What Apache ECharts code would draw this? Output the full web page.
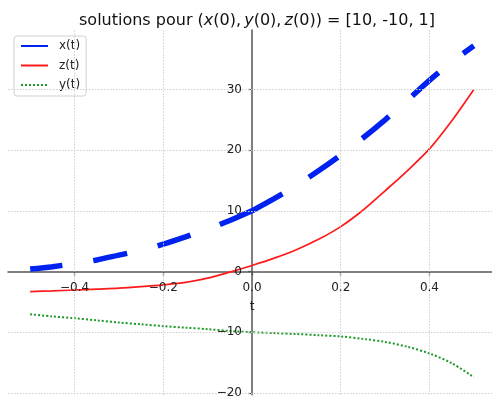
<!DOCTYPE html>
<html>
<head>
<meta charset="utf-8">
<script src="https://cdn.jsdelivr.net/npm/echarts@6/dist/echarts.min.js"></script>
<style>html,body{margin:0;padding:0;background:#fff}#c{width:492px;height:401px}</style>
</head>
<body>
<div id="c"></div>
<script>
const tVals = [-0.5,-0.45,-0.4,-0.35,-0.3,-0.25,-0.2,-0.15,-0.1,-0.05,0,0.05,0.1,0.15,0.2,0.25,0.3,0.35,0.4,0.45,0.5];
const xVals = [0.4,0.8,1.3,1.9,2.7,3.5,4.5,5.7,7.0,8.4,10.0,12.0,14.2,16.6,19.2,22.0,25.0,28.2,31.5,34.5,37.2];
const zVals = [-3.3,-3.2,-3.05,-2.9,-2.75,-2.5,-2.2,-1.8,-1.1,-0.1,1.0,2.2,3.6,5.3,7.4,10.1,13.3,16.6,20.2,24.8,30.0];
const yVals = [-7.05,-7.4,-7.7,-8.05,-8.4,-8.7,-9.0,-9.25,-9.5,-9.8,-10.0,-10.15,-10.3,-10.5,-10.7,-11.1,-11.6,-12.4,-13.5,-15.1,-17.4];
const xTicks = [-0.4,-0.2,0,0.2,0.4];
const yTicks = [-20,-10,0,10,20,30];
const xAxisName = 't';

const pairs = vals => tVals.map((t,i)=>[t, vals[i]]);
const xPairs = pairs(xVals);
const iZero = tVals.indexOf(0);
const xBack = xPairs.slice(0, iZero+1).reverse();
const xFwd = xPairs.slice(iZero);

const fmtX = v => (v < -1e-9 ? '\u2212' : '') + Math.abs(v).toFixed(1);
const fmtY = v => (v < 0 ? '\u2212' : '') + Math.abs(Math.round(v));

const FONT = 'DejaVu Sans';
const BLUE = '#0022f0';
const xStyle = {color:BLUE, width:5.5, type:[35,31], cap:'butt'};

const gridMarks = xTicks.filter(v=>v!==0).map(v=>({xAxis:v}))
  .concat(yTicks.filter(v=>v!==0).map(v=>({yAxis:v})));

const chart = echarts.init(document.getElementById('c'), null, {renderer:'canvas'});
chart.setOption({
  animation:false,
  title:{
    text:'{n|solutions pour (}{i|x}{n|(0),\u2009}{i|y}{n|(0),\u2009}{i|z}{n|(0)) = [10, -10, 1]}',
    left:252, top:8, textAlign:'center',
    textStyle:{fontWeight:'normal', rich:{
      n:{fontFamily:FONT, fontSize:16, fontWeight:'normal', color:'#111'},
      i:{fontFamily:FONT, fontSize:16, fontWeight:'normal', fontStyle:'italic', color:'#111'}
    }}
  },
  legend:{
    data:['x(t)','z(t)','y(t)'],
    orient:'vertical', left:14, top:36,
    itemWidth:27, itemHeight:14, itemGap:7.5,
    padding:[4,6,5,6],
    backgroundColor:'rgba(255,255,255,0.8)',
    borderColor:'#d0d0d0', borderWidth:1, borderRadius:3,
    itemStyle:{opacity:0},
    textStyle:{fontFamily:FONT, fontSize:12, color:'#222', padding:[0,0,0,6]}
  },
  grid:{left:8, right:0, top:30, bottom:6.3, outerBoundsMode:'none'},
  xAxis:{
    type:'value', min:-0.55, max:0.541,
    axisLine:{onZero:true, lineStyle:{color:'#555', width:1.5}},
    axisTick:{show:true, length:4, customValues:xTicks, lineStyle:{color:'#555', width:1.2}},
    axisLabel:{show:false},
    splitLine:{show:false}
  },
  yAxis:{
    type:'value', min:-20.3, max:39.8,
    axisLine:{onZero:true, show:true, lineStyle:{color:'#555', width:1.5}},
    axisTick:{show:true, length:4, customValues:yTicks, lineStyle:{color:'#555', width:1.2}},
    axisLabel:{show:false},
    splitLine:{show:false}
  },
  series:[
    {type:'line', data:[], silent:true, z:1,
     markLine:{silent:true, symbol:['none','none'], label:{show:false}, animation:false,
       lineStyle:{color:'#cfcfcf', type:[1.5,1.5], width:1}, emphasis:{disabled:true}, data:gridMarks}},
    {name:'x(t)', type:'line', data:xBack, symbol:'none', smooth:0.3, lineStyle:xStyle, itemStyle:{color:BLUE}},
    {name:'x(t)', type:'line', data:xFwd, symbol:'none', smooth:0.3, lineStyle:xStyle, itemStyle:{color:BLUE}},
    {name:'z(t)', type:'line', data:pairs(zVals), symbol:'none', smooth:0.3, lineStyle:{color:'#ff1a1a', width:1.7}, itemStyle:{color:'#ff1a1a'}},
    {name:'y(t)', type:'line', data:pairs(yVals), symbol:'none', smooth:0.3, lineStyle:{color:'#1f9a2a', width:2, type:[2,2]}, itemStyle:{color:'#1f9a2a'}}
  ]
});

// Tick labels and axis name as real text, placed through the chart's own scales
const toPx = (a, b) => chart.convertToPixel({gridIndex:0}, [a, b]);
const labelStyle = (text, align, vAlign) => ({
  text: text, fontFamily: FONT, fontSize: 12, fill: '#222',
  align: align, textAlign: align, verticalAlign: vAlign, textVerticalAlign: vAlign
});
const elements = [];
xTicks.forEach(v => {
  const p = toPx(v, 0);
  elements.push({type:'text', silent:true, z:50, x:p[0], y:p[1] + 16.5, style:labelStyle(fmtX(v), 'center', 'middle')});
});
yTicks.forEach(v => {
  const p = toPx(0, v);
  elements.push({type:'text', silent:true, z:50, x:p[0] - 10, y:p[1], style:labelStyle(fmtY(v), 'right', 'middle')});
});
const o = toPx(0, 0);
elements.push({type:'text', silent:true, z:50, x:o[0], y:o[1] + 35.5, style:labelStyle(xAxisName, 'center', 'middle')});
chart.setOption({graphic:{elements:elements}});
</script>
</body>
</html>
